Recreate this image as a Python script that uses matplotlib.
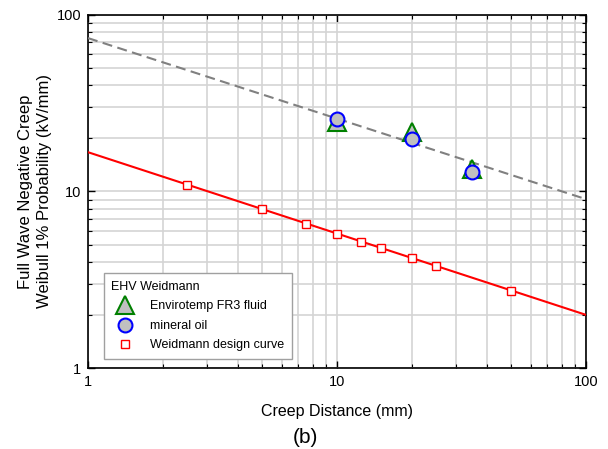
import numpy as np
import matplotlib
matplotlib.use('Agg')
import matplotlib.pyplot as plt
from matplotlib.ticker import LogLocator, NullFormatter, FixedLocator

plt.rcParams['font.family'] = ['Liberation Sans', 'DejaVu Sans']

# Weidmann design curve (markers)
design_x = [2.5, 5, 7.5, 10, 12.5, 15, 20, 25, 50]
design_y = [10.9, 7.95, 6.55, 5.75, 5.17, 4.78, 4.2, 3.78, 2.73]

# fitted lines (end points)
design_line_x = [1, 100]
design_line_y = [16.7, 2.0]
oil_line_x = [1, 100]
oil_line_y = [74, 9.05]

# measurements
fr3_x = [10, 20, 35]
fr3_y = [24.8, 21.7, 13.4]
oil_x = [10, 20, 35]
oil_y = [25.8, 19.8, 12.9]

fig = plt.figure(figsize=(6.08, 4.49), dpi=100)
ax = fig.add_axes([0.1447, 0.1804, 0.8191, 0.7862])

ax.plot(oil_line_x, oil_line_y, color='#808080', lw=1.5, ls=(0, (4.8, 2.6)), zorder=3)
ax.plot(design_line_x, design_line_y, color='#ff0000', lw=1.5, zorder=3)

ax.plot(fr3_x, fr3_y, ls='none', marker='^', ms=13, mfc='#c0c0c0', mec='#008000',
        mew=1.5, zorder=4, label='Envirotemp FR3 fluid')
ax.plot(oil_x, oil_y, ls='none', marker='o', ms=10, mfc='#c0c0c0', mec='#0000ff',
        mew=1.5, zorder=5, label='mineral oil')
ax.plot(design_x, design_y, ls='none', marker='s', ms=6, mfc='white', mec='#ff0000',
        mew=1.0, zorder=5, label='Weidmann design curve')

ax.set_xscale('log')
ax.set_yscale('log')
ax.set_xlim(1, 100)
ax.set_ylim(1, 100)

ax.xaxis.set_major_locator(FixedLocator([1, 10, 100]))
ax.yaxis.set_major_locator(FixedLocator([1, 10, 100]))
ax.xaxis.set_minor_locator(LogLocator(base=10, subs=np.arange(2, 10)))
ax.yaxis.set_minor_locator(LogLocator(base=10, subs=np.arange(2, 10)))
ax.xaxis.set_minor_formatter(NullFormatter())
ax.yaxis.set_minor_formatter(NullFormatter())
ax.set_xticklabels(['1', '10', '100'])
ax.set_yticklabels(['1', '10', '100'])

ax.grid(True, which='both', color='#d4d4d4', lw=1.2, zorder=0)
ax.set_axisbelow(True)
ax.tick_params(which='both', direction='in', top=True, right=True, labelsize=10.5,
               color='black')
ax.tick_params(which='major', length=5, width=1, pad=5)
ax.tick_params(which='minor', length=3, width=0.8)
for s in ax.spines.values():
    s.set_linewidth(1.2)

ax.set_xlabel('Creep Distance (mm)', fontsize=11.5, labelpad=11)
ax.set_ylabel('Full Wave Negative Creep\nWeibull 1% Probability (kV/mm)', fontsize=12,
              labelpad=3, linespacing=1.35)

leg = ax.legend(loc='lower left', bbox_to_anchor=(0.032, 0.0255), borderaxespad=0,
                title='EHV Weidmann', fontsize=9, title_fontsize=9, fancybox=False,
                framealpha=1, edgecolor='#a0a0a0', borderpad=0.6, handlelength=2.2,
                handletextpad=0.9, labelspacing=0.6)
leg._legend_box.align = 'left'
leg.get_frame().set_linewidth(1.0)

fig.text(0.503, 0.004, '(b)', fontsize=15, ha='center', va='bottom')

fig.savefig('out.png', dpi=100)
